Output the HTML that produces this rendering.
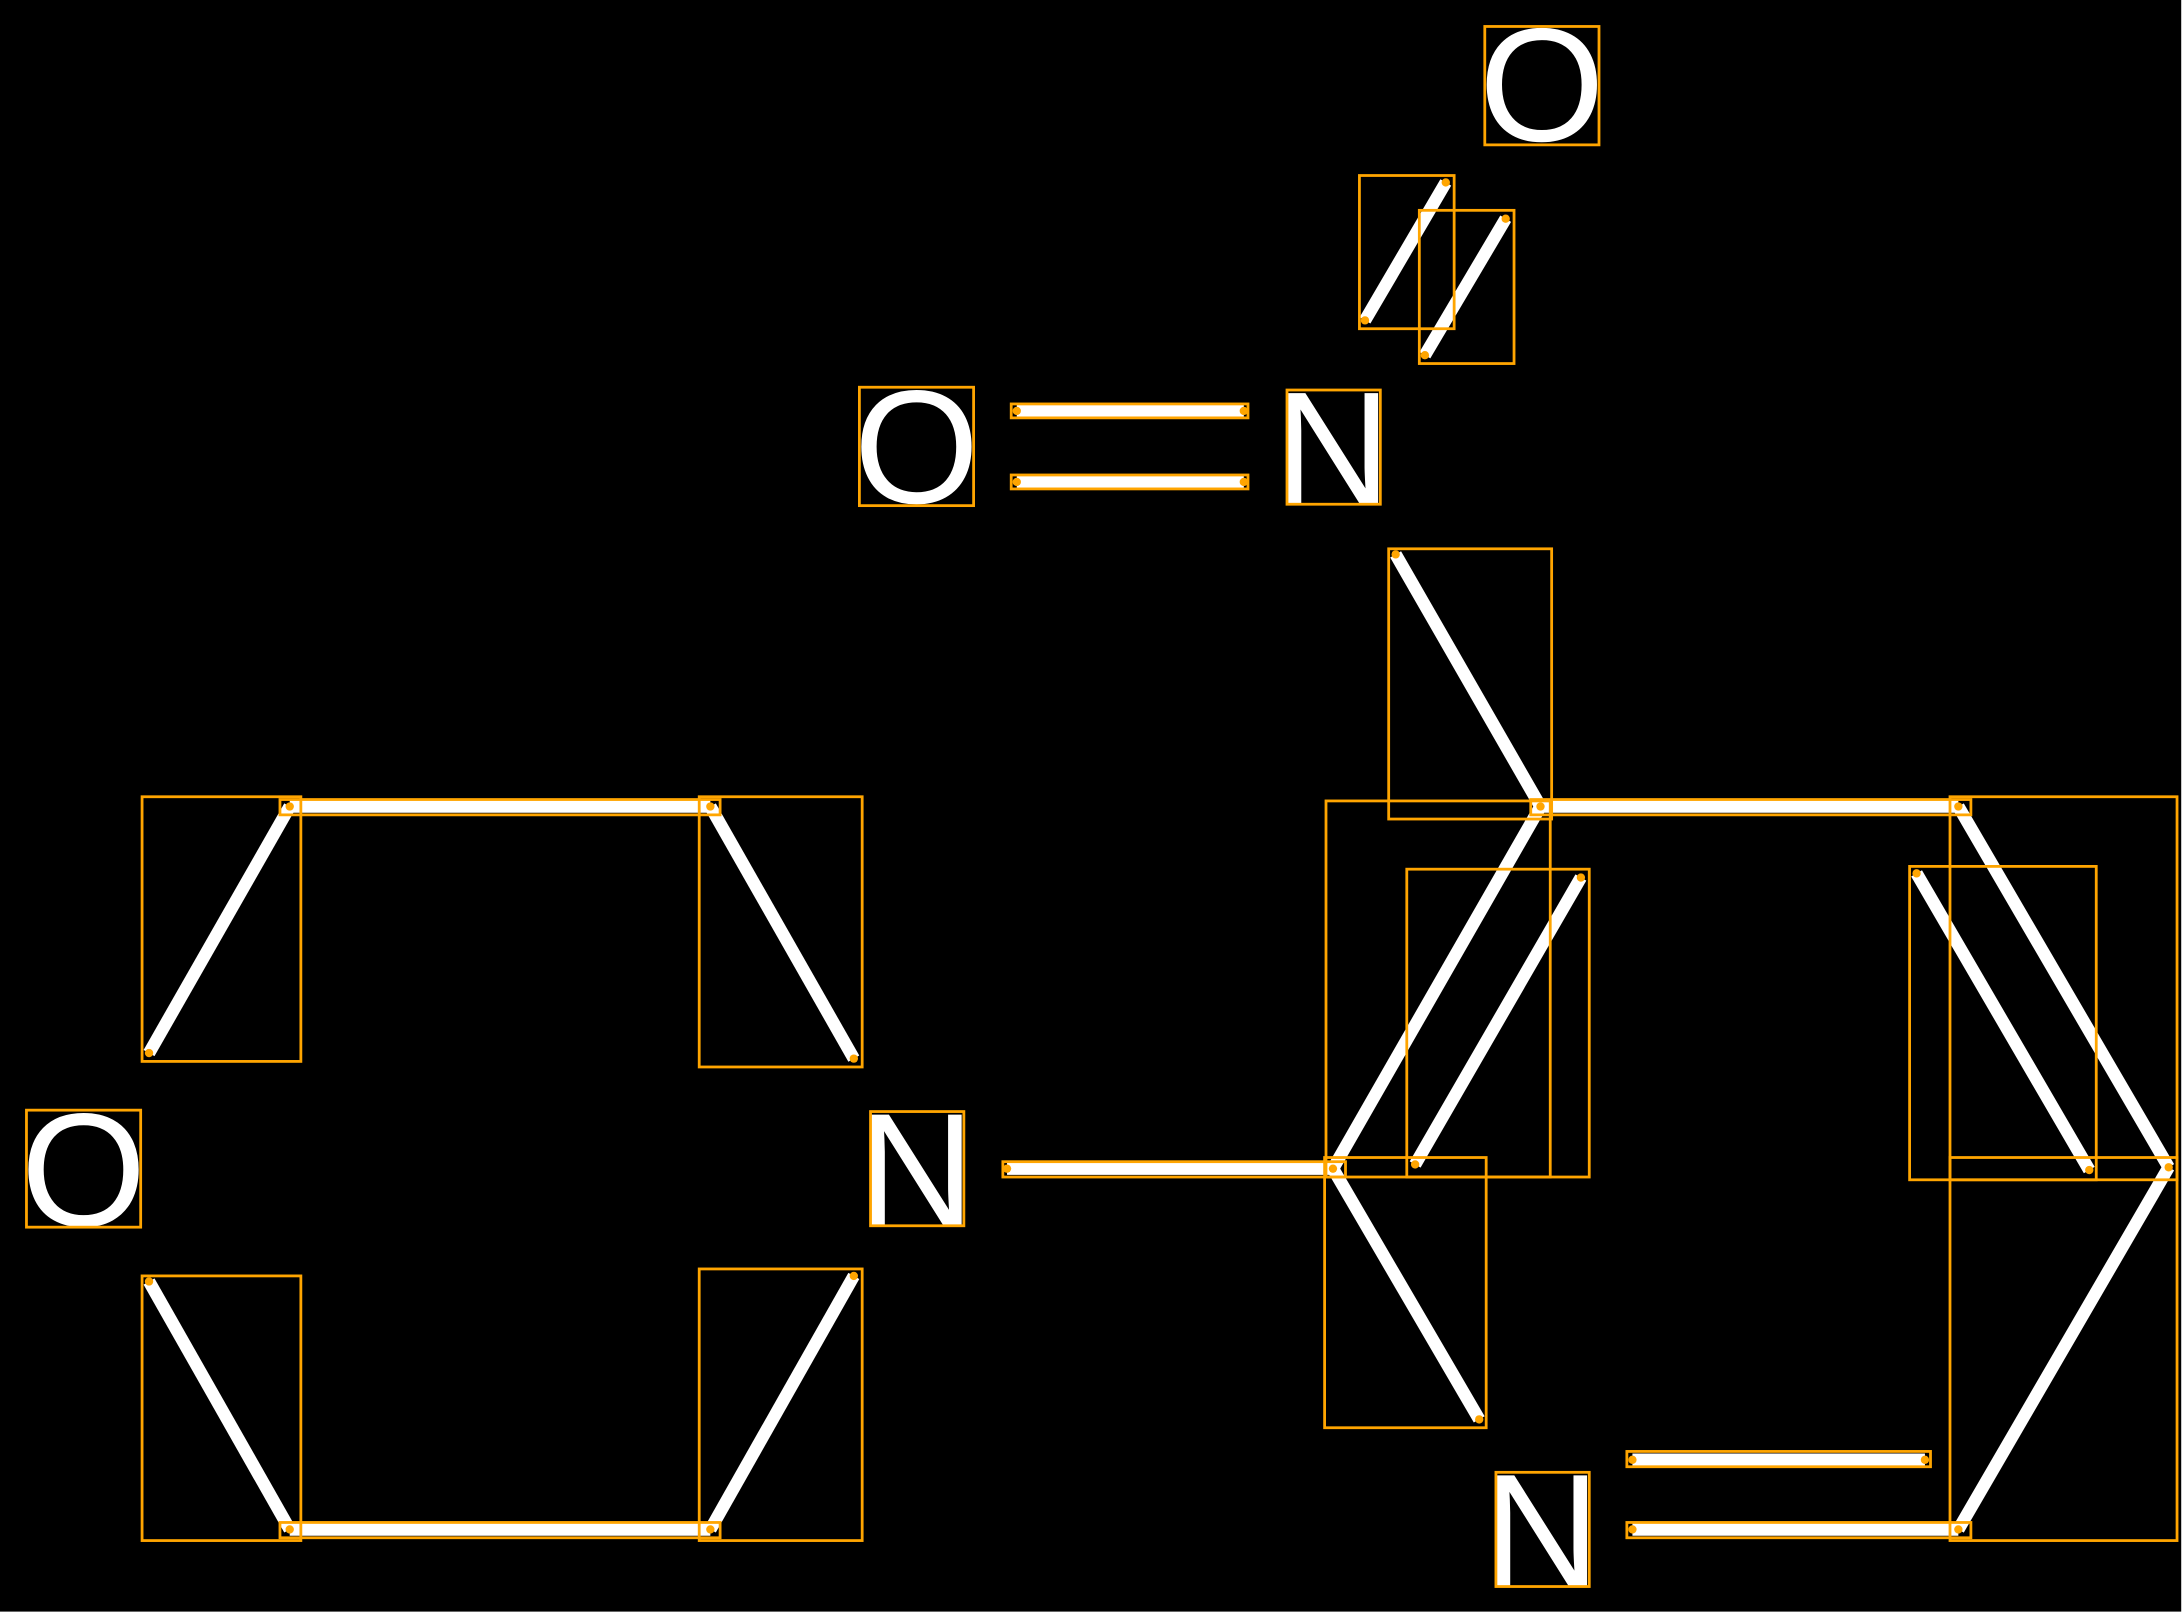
<!DOCTYPE html>
<html><head><style>html,body{margin:0;padding:0;background:#fff}svg{display:block}</style></head><body>
<svg width="2184" height="1613" viewBox="0 0 1568 1158" preserveAspectRatio="none" xmlns="http://www.w3.org/2000/svg">
<rect x="0" y="0" width="1566" height="1157" fill="#000"/>
<g stroke="#fff" stroke-width="9" stroke-linecap="butt">
<line x1="208" y1="579" x2="510" y2="579"/>
<line x1="510" y1="579" x2="613" y2="760"/>
<line x1="208" y1="579" x2="107" y2="756"/>
<line x1="107" y1="920" x2="208" y2="1098"/>
<line x1="208" y1="1098" x2="510" y2="1098"/>
<line x1="510" y1="1098" x2="613" y2="916"/>
<line x1="723" y1="839" x2="957" y2="839"/>
<line x1="957" y1="839" x2="1106" y2="579"/>
<line x1="1016" y1="836" x2="1135" y2="630"/>
<line x1="1106" y1="579" x2="1406" y2="579"/>
<line x1="1406" y1="579" x2="1557" y2="838"/>
<line x1="1376" y1="627" x2="1500" y2="840"/>
<line x1="1557" y1="838" x2="1406" y2="1098"/>
<line x1="957" y1="839" x2="1062" y2="1019"/>
<line x1="1002" y1="398" x2="1106" y2="579"/>
<line x1="1172" y1="1048" x2="1382" y2="1048"/>
<line x1="1172" y1="1098" x2="1406" y2="1098"/>
<line x1="730" y1="295" x2="893" y2="295"/>
<line x1="730" y1="346" x2="893" y2="346"/>
<line x1="980" y1="230" x2="1038" y2="131"/>
<line x1="1023" y1="255" x2="1081" y2="157"/>
</g>
<g fill="#fff" font-family="Liberation Sans, sans-serif" font-size="116" text-anchor="middle">
<text x="60" y="880">O</text>
<text x="658" y="880">N</text>
<text x="1107" y="1139">N</text>
<text x="957" y="362">N</text>
<text x="658" y="361">O</text>
<text x="1107" y="101">O</text>
</g>
<g fill="none" stroke="#ffa500" stroke-width="2">
<rect x="19" y="797" width="82" height="84"/>
<rect x="625" y="798" width="67" height="82"/>
<rect x="1074" y="1057" width="67" height="82"/>
<rect x="924" y="280" width="67" height="82"/>
<rect x="617" y="278" width="82" height="85"/>
<rect x="1066" y="19" width="82" height="85"/>
<rect x="102" y="572" width="114" height="190"/>
<rect x="502" y="572" width="117" height="194"/>
<rect x="102" y="916" width="114" height="190"/>
<rect x="502" y="911" width="117" height="195"/>
<rect x="201" y="574" width="316" height="11"/>
<rect x="201" y="1093" width="316" height="11"/>
<rect x="720" y="834" width="246" height="11"/>
<rect x="997" y="394" width="117" height="194"/>
<rect x="952" y="575" width="161" height="270"/>
<rect x="1010" y="624" width="131" height="221"/>
<rect x="1099" y="574" width="316" height="11"/>
<rect x="1400" y="572" width="163" height="275"/>
<rect x="1400" y="831" width="163" height="275"/>
<rect x="1371" y="622" width="134" height="225"/>
<rect x="951" y="831" width="116" height="194"/>
<rect x="1168" y="1042" width="218" height="11"/>
<rect x="1168" y="1093" width="247" height="11"/>
<rect x="726" y="290" width="170" height="10"/>
<rect x="726" y="341" width="170" height="10"/>
<rect x="976" y="126" width="68" height="110"/>
<rect x="1019" y="151" width="68" height="110"/>
</g>
<g fill="#ffa500">
<circle cx="208" cy="579" r="3"/><circle cx="510" cy="579" r="3"/><circle cx="613" cy="760" r="3"/>
<circle cx="107" cy="756" r="3"/><circle cx="107" cy="920" r="3"/><circle cx="208" cy="1098" r="3"/>
<circle cx="510" cy="1098" r="3"/><circle cx="613" cy="916" r="3"/><circle cx="723" cy="839" r="3"/>
<circle cx="957" cy="839" r="3"/><circle cx="1106" cy="579" r="3"/><circle cx="1016" cy="836" r="3"/>
<circle cx="1135" cy="630" r="3"/><circle cx="1406" cy="579" r="3"/><circle cx="1557" cy="838" r="3"/>
<circle cx="1376" cy="627" r="3"/><circle cx="1500" cy="840" r="3"/><circle cx="1406" cy="1098" r="3"/>
<circle cx="1062" cy="1019" r="3"/><circle cx="1002" cy="398" r="3"/><circle cx="1172" cy="1048" r="3"/>
<circle cx="1382" cy="1048" r="3"/><circle cx="1172" cy="1098" r="3"/><circle cx="730" cy="295" r="3"/>
<circle cx="893" cy="295" r="3"/><circle cx="730" cy="346" r="3"/><circle cx="893" cy="346" r="3"/>
<circle cx="980" cy="230" r="3"/><circle cx="1038" cy="131" r="3"/><circle cx="1023" cy="255" r="3"/>
<circle cx="1081" cy="157" r="3"/>
</g>
</svg>
</body></html>
